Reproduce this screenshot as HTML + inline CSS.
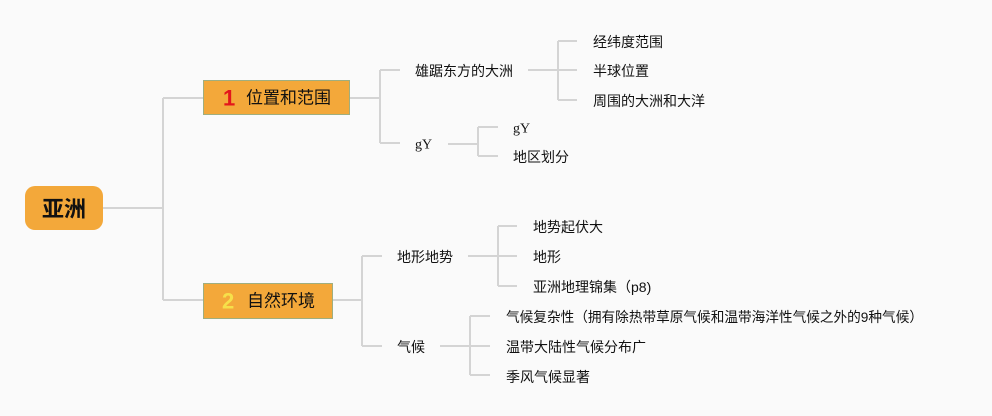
<!DOCTYPE html>
<html><head><meta charset="utf-8"><style>
html,body{margin:0;padding:0;background:#fafafa;}
svg{display:block;}
text{font-family:"Liberation Sans","Noto Sans CJK SC",sans-serif;fill:#111;}
.t{font-size:14px;dominant-baseline:central;}
</style></head><body>
<svg width="992" height="416" viewBox="0 0 992 416" xmlns="http://www.w3.org/2000/svg">
<rect width="992" height="416" fill="#fafafa"/>
<g stroke="#d4d4d4" stroke-width="2" fill="none">
<path d="M103 208H163M163 98V300M163 98H203M163 300H203"/>
<path d="M350 98H380M380 70V143M380 70H400M380 143H400"/>
<path d="M528 70H558M558 41V100M558 41H577M558 70H577M558 100H577"/>
<path d="M448 144H478M478 127V156M478 127H498M478 156H498"/>
<path d="M333 300H362M362 256V346M362 256H382M362 346H382"/>
<path d="M468 256H498M498 226V286M498 226H517M498 256H517M498 286H517"/>
<path d="M440 346H470M470 316V375M470 316H490M470 346H490M470 375H490"/>
</g>
<rect x="25" y="186" width="78" height="44" rx="10" fill="#f3a83a"/>
<text x="64" y="209" text-anchor="middle" dominant-baseline="central" style="font-size:22px;font-weight:bold">亚洲</text>
<rect x="203.5" y="80.5" width="146" height="34" fill="#f3a83a" stroke="#9fae7f" stroke-width="1"/>
<text x="223" y="98" dominant-baseline="central" style="font-size:22px;font-weight:bold;fill:#e3161b">1</text>
<text x="246" y="98" dominant-baseline="central" style="font-size:17px">位置和范围</text>
<rect x="203.5" y="283.5" width="129" height="35" fill="#f3a83a" stroke="#9fae7f" stroke-width="1"/>
<text x="222" y="301" dominant-baseline="central" style="font-size:22px;font-weight:bold;fill:#f6e04a">2</text>
<text x="247" y="301" dominant-baseline="central" style="font-size:17px">自然环境</text>
<text class="t" x="415" y="71">雄踞东方的大洲</text>
<text class="t" x="593" y="42">经纬度范围</text>
<text class="t" x="593" y="71">半球位置</text>
<text class="t" x="593" y="101">周围的大洲和大洋</text>
<text class="t" x="415" y="145" style="font-family:'Liberation Serif',serif">gY</text>
<text class="t" x="513" y="129" style="font-family:'Liberation Serif',serif">gY</text>
<text class="t" x="513" y="157">地区划分</text>
<text class="t" x="397" y="257">地形地势</text>
<text class="t" x="397" y="347">气候</text>
<text class="t" x="533" y="227">地势起伏大</text>
<text class="t" x="533" y="257">地形</text>
<text class="t" x="533" y="287">亚洲地理锦集（p8)</text>
<text class="t" x="506" y="317" textLength="417" lengthAdjust="spacingAndGlyphs">气候复杂性（拥有除热带草原气候和温带海洋性气候之外的9种气候）</text>
<text class="t" x="506" y="347">温带大陆性气候分布广</text>
<text class="t" x="506" y="377">季风气候显著</text>
</svg>
</body></html>
